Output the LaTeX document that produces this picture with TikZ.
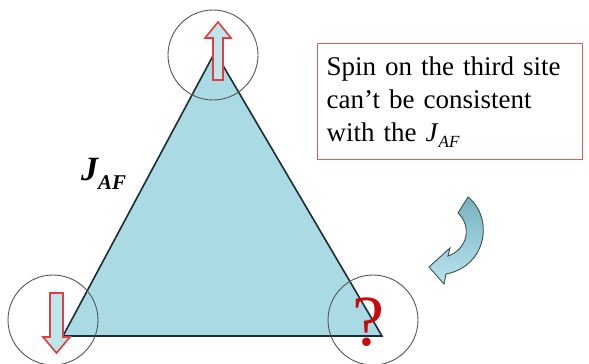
\documentclass[tikz,border=0pt]{standalone}
\usepackage{fontspec}
\setmainfont{Liberation Serif}
\begin{document}
\begin{tikzpicture}[x=1pt,y=-1pt,
  trifill/.style={fill=tri, draw=triline, line width=1.6pt, line join=miter},
  site/.style={circle, draw=sitegray, line width=0.9pt, minimum size=90pt, inner sep=0pt},
  spinarrow/.style={draw=spinred, line width=1.6pt, fill=spinfill, line join=miter},
  notebox/.style={draw=boxred, line width=1.3pt, fill=white, minimum width=265pt, minimum height=116pt,
    inner xsep=9pt, text width=247pt, align=left, anchor=north west},
  curvearrow/.style={draw=curveline, line width=0.9pt, top color=curvetop, bottom color=curvebot}]
\definecolor{tri}{RGB}{170,218,228}
\definecolor{triline}{RGB}{25,45,50}
\definecolor{sitegray}{RGB}{85,85,85}
\definecolor{spinred}{RGB}{226,60,60}
\definecolor{spinfill}{RGB}{190,228,236}
\definecolor{boxred}{RGB}{224,90,90}
\definecolor{qred}{RGB}{200,10,10}
\definecolor{curveline}{RGB}{60,80,85}
\definecolor{curvetop}{RGB}{120,178,192}
\definecolor{curvebot}{RGB}{185,228,238}
\useasboundingbox (0,0) rectangle (589,364);
\fill[white] (0,0) rectangle (589,364);
% vertices
\coordinate (A) at (215,52);
\coordinate (B) at (63,336);
\coordinate (C) at (382,336);
\filldraw[trifill] (A) -- (B) -- (C) -- cycle;
% sites
\node[site] (s1) at (213,55) {};
\node[site] (s2) at (53,320) {};
\node[site] (s3) at (373,320) {};
% up spin
\draw[spinarrow] (213,80) -- (213,38) -- (205,38) -- (218,22) -- (231,38) -- (223,38) -- (223,80) -- cycle;
% down spin
\draw[spinarrow] (50,293) -- (50,337) -- (43,337) -- (56.5,353) -- (70,337) -- (63,337) -- (63,293) -- cycle;
% question mark
\node[text=qred, font=\fontsize{72}{72}\selectfont, inner sep=0pt] (q) at (368,322) {?};
% J_AF label
\node[font=\fontsize{34}{34}\selectfont\bfseries\itshape, inner sep=0pt, anchor=base west] (j) at (81,180)
  {J\raisebox{-9pt}{\fontsize{21}{21}\selectfont AF}};
% text box
\node[notebox, font=\fontsize{27}{33}\selectfont] (note) at (317,43)
  {Spin on the third site\\can’t be consistent\\with the \textit{J}\raisebox{-6pt}{\fontsize{17}{17}\selectfont\textit{AF}}};
% curved arrow
\path[curvearrow] (458,213) -- (468,197) .. controls (494,218) and (487,266) .. (446,274)
  -- (444,284) -- (429,267) -- (450,248) -- (448,256)
  .. controls (468,249) and (472,226) .. (458,213) -- cycle;
\end{tikzpicture}
\end{document}
